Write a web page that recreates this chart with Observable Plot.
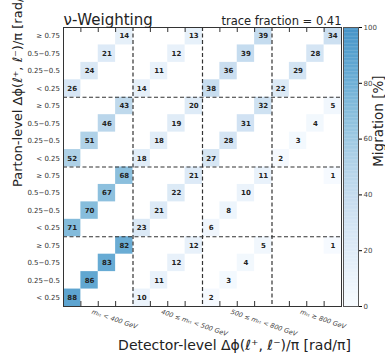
<!DOCTYPE html>
<html><head><meta charset="utf-8">
<script src="https://cdn.jsdelivr.net/npm/d3@7"></script>
<script src="https://cdn.jsdelivr.net/npm/@observablehq/plot@0.6"></script>
<style>
body{margin:0;background:#fff;font-family:"DejaVu Sans",sans-serif}
#wrap{position:relative;width:385px;height:358px;overflow:hidden}
#wrap svg{position:absolute;left:0;top:0}
</style>
</head><body><div id="wrap"></div>
<script>
const dphiBins = ["< 0.25", "0.25−0.5", "0.5−0.75", "≥ 0.75"];
const mttBins = ["mₜₜ < 400 GeV", "400 ≤ mₜₜ < 500 GeV", "500 ≤ mₜₜ < 800 GeV", "mₜₜ ≥ 800 GeV"];
// each parton-level mtt bin: values per detector-level mtt bin, for the 4 Δφ bins (diagonal of each block)
const partonLt400    = [[88, 86, 83, 82], [10, 11, 12, 12], [2, 3, 4, 5], [0, 0, 0, 1]];
const parton400to500 = [[71, 70, 67, 68], [23, 21, 22, 21], [6, 8, 10, 11], [0, 0, 0, 1]];
const parton500to800 = [[52, 51, 46, 43], [18, 18, 19, 20], [27, 28, 31, 32], [2, 3, 4, 5]];
const partonGe800    = [[26, 24, 21, 14], [14, 11, 12, 13], [38, 36, 39, 39], [22, 29, 28, 34]];
const colorTicks = [0, 20, 40, 60, 80, 100];
const traceFraction = 0.41;
const titleText = "ν-Weighting";
const xTitle = "Detector-level Δϕ(ℓ⁺, ℓ⁻)/π [rad/π]";
const yTitle = "Parton-level Δϕ(ℓ⁺, ℓ⁻)/π [rad/π]";
const cbTitle = "Migration [%]";

const parton = [partonLt400, parton400to500, parton500to800, partonGe800];
const cells = [];
parton.forEach((row, p) => row.forEach((vals, d) => vals.forEach((v, k) => {
  if (v > 0) cells.push({x: d * 4 + k, y: p * 4 + k, v});
})));
const nBins = 16;
const minorTicks = d3.range(1, nBins).filter(i => i % 4 !== 0);
const rowTicks = d3.range(nBins).map(i => i + 0.5);
const colorOpts = {type: "linear", domain: [0, 100], interpolate: t => d3.interpolateBlues(0.62 * t)};
const font = "DejaVu Sans";

const main = Plot.plot({
  width: 385, height: 358,
  marginLeft: 63, marginRight: 44, marginTop: 27, marginBottom: 52,
  x: {domain: [0, nBins], axis: null},
  y: {domain: [0, nBins], axis: null},
  color: colorOpts,
  style: {fontFamily: font, background: "transparent", overflow: "visible"},
  marks: [
    Plot.rect(cells, {x1: "x", x2: d => d.x + 1, y1: "y", y2: d => d.y + 1, fill: "v"}),
    Plot.text(cells, {x: d => d.x + 0.5, y: d => d.y + 0.5, text: "v", fontWeight: "bold", fontSize: 7, fill: "#222"}),
    Plot.ruleX([4, 8, 12], {stroke: "#333", strokeDasharray: "4,2.5", strokeWidth: 1.2}),
    Plot.ruleY([4, 8, 12], {stroke: "#333", strokeDasharray: "4,2.5", strokeWidth: 1.2}),
    Plot.tickX(minorTicks, {x: d => d, insetTop: 274, stroke: "#333"}),
    Plot.tickX(minorTicks, {x: d => d, insetBottom: 274, stroke: "#333"}),
    Plot.frame({stroke: "#333"}),
    Plot.axisY({ticks: rowTicks, tickFormat: t => dphiBins[Math.floor(t) % 4], tickSize: 0, tickPadding: 3.5, fontSize: 7, fill: "#333", label: null}),
    Plot.text(mttBins, {x: (d, i) => i * 4 + 1.6, frameAnchor: "bottom", dy: 7, text: d => d, textAnchor: "start", rotate: 19, fontStyle: "italic", fontSize: 6.5, fill: "#444"}),
    Plot.text([xTitle], {frameAnchor: "bottom", dy: 43, dx: 32, text: d => d, fontSize: 14, fill: "#222"}),
    Plot.text([yTitle], {frameAnchor: "left", dx: -46, dy: 20, rotate: -90, text: d => d, fontSize: 13, fill: "#222"}),
    Plot.text([titleText], {frameAnchor: "top-left", dy: -13, textAnchor: "start", text: d => d, fontSize: 15, fill: "#222"}),
    Plot.text([`trace fraction = ${traceFraction}`], {frameAnchor: "top-right", dy: -11, textAnchor: "end", text: d => d, fontSize: 11.5, fill: "#222"})
  ]
});

const steps = d3.range(0, 100, 0.5);
const cbar = Plot.plot({
  width: 385, height: 358,
  marginLeft: 343, marginRight: 27, marginTop: 27, marginBottom: 52,
  x: {domain: [0, 1], axis: null},
  y: {domain: [0, 100], axis: null},
  color: colorOpts,
  style: {fontFamily: font, background: "transparent", overflow: "visible"},
  marks: [
    Plot.rect(steps, {x1: 0, x2: 1, y1: d => d, y2: d => Math.min(100, d + 0.6), fill: d => d}),
    Plot.frame({stroke: "#555"}),
    Plot.axisY({anchor: "right", ticks: colorTicks, tickSize: 3, tickPadding: 2, fontSize: 7, fill: "#444", label: null}),
    Plot.text([cbTitle], {frameAnchor: "top-right", dx: 15, dy: 48, rotate: -90, text: d => d, fontSize: 13.5, fill: "#222"})
  ]
});

const wrap = document.getElementById("wrap");
wrap.appendChild(main);
wrap.appendChild(cbar);
</script>
</body></html>
